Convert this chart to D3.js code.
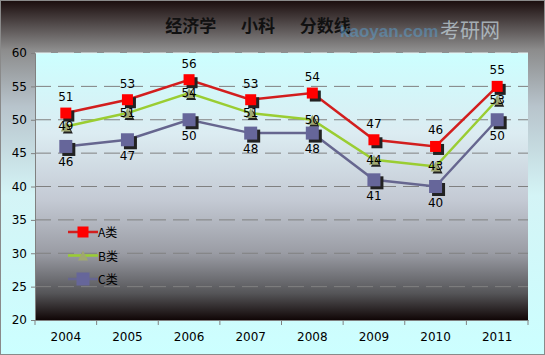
<!DOCTYPE html>
<html>
<head>
<meta charset="utf-8">
<script src="https://cdn.jsdelivr.net/npm/d3@7"></script>
<style>
  body { margin: 0; background: #fff; }
  svg { display: block; }
</style>
</head>
<body>
<div id="chart"></div>
<script>
const years = ["2004", "2005", "2006", "2007", "2008", "2009", "2010", "2011"];
const seriesA = [51, 53, 56, 53, 54, 47, 46, 55];
const seriesB = [49, 51, 54, 51, 50, 44, 43, 53];
const seriesC = [46, 47, 50, 48, 48, 41, 40, 50];
const seriesNames = ["A类", "B类", "C类"];
const yTicks = [20, 25, 30, 35, 40, 45, 50, 55, 60];

const width = 545, height = 355;
const margin = { top: 53, right: 17, bottom: 35, left: 35 };

const svg = d3.select("#chart").append("svg")
  .attr("width", width).attr("height", height);

const defs = svg.append("defs");
const outerGrad = defs.append("linearGradient").attr("id", "outerGrad")
  .attr("x1", 0).attr("y1", 0).attr("x2", 0).attr("y2", 1);
[[0, "#1a0c0c"], [0.14, "#8c8c8c"], [0.3, "#b8c4cc"], [0.55, "#d4f4f6"], [1, "#ccffff"]]
  .forEach(([o, c]) => outerGrad.append("stop").attr("offset", o).attr("stop-color", c));

const plotGrad = defs.append("linearGradient").attr("id", "plotGrad")
  .attr("x1", 0).attr("y1", 0).attr("x2", 0).attr("y2", 1);
[[0, "#ccffff"], [0.3, "#dcecf2"], [0.55, "#c4cad4"], [0.75, "#9a9ca4"], [0.9, "#555558"], [1, "#100606"]]
  .forEach(([o, c]) => plotGrad.append("stop").attr("offset", o).attr("stop-color", c));

svg.append("rect").attr("width", width).attr("height", height)
  .attr("fill", "url(#outerGrad)").attr("stroke", "#8a8a8a").attr("stroke-width", 2);

const chartW = width - margin.left - margin.right;
const chartH = height - margin.top - margin.bottom;

const x = d3.scaleBand().domain(years).range([0, chartW]);
const y = d3.scaleLinear().domain([20, 60]).range([chartH, 0]);

const g = svg.append("g").attr("transform", `translate(${margin.left},${margin.top})`);

g.append("rect").attr("width", chartW).attr("height", chartH).attr("fill", "url(#plotGrad)");

// gridlines
g.append("g").selectAll("line").data(yTicks.filter(d => d > 20)).join("line")
  .attr("x1", 0).attr("x2", chartW)
  .attr("y1", d => y(d)).attr("y2", d => y(d))
  .attr("stroke", d => d === 60 ? "#e8f4f4" : "#808080")
  .attr("stroke-width", 1)
  .attr("stroke-dasharray", "16,7");

// y axis
const yAxis = g.append("g").call(d3.axisLeft(y).tickValues(yTicks).tickSize(4).tickPadding(4));
yAxis.select(".domain").attr("stroke", "#808080");
yAxis.selectAll(".tick line").attr("stroke", "#808080");
yAxis.selectAll("text").attr("font-family", "DejaVu Sans, sans-serif").attr("font-size", 12).attr("fill", "#000");

// x axis
const xAxis = g.append("g").attr("transform", `translate(0,${chartH})`)
  .call(d3.axisBottom(x).tickSize(0).tickPadding(12));
xAxis.select(".domain").attr("stroke", "#808080");
xAxis.selectAll("text").attr("font-family", "DejaVu Sans, sans-serif").attr("font-size", 12).attr("fill", "#000");
g.append("g").selectAll("line").data(years.concat(["end"])).join("line")
  .attr("x1", (d, i) => i * x.bandwidth()).attr("x2", (d, i) => i * x.bandwidth())
  .attr("y1", chartH).attr("y2", chartH + 5)
  .attr("stroke", "#808080");

// title
svg.append("text").attr("x", 258).attr("y", 32).attr("text-anchor", "middle")
  .attr("font-family", "Noto Sans CJK SC, sans-serif").attr("font-size", 17).attr("font-weight", "bold")
  .attr("fill", "#111")
  .attr("xml:space", "preserve").style("white-space", "pre")
  .text("经济学　  小科　  分数线");

// watermark top right
svg.append("text").attr("x", 340).attr("y", 37)
  .attr("font-family", "Liberation Sans, sans-serif").attr("font-size", 17).attr("font-weight", "bold")
  .attr("fill", "#5a9ac8").attr("opacity", 0.55)
  .text("kaoyan.com");
svg.append("text").attr("x", 440).attr("y", 38)
  .attr("font-family", "Noto Sans CJK SC, sans-serif").attr("font-size", 20)
  .attr("fill", "#c8d8e0").attr("opacity", 0.7)
  .text("考研网");

const series = [
  { name: seriesNames[0], values: seriesA, line: "#d21e1e", fill: "#ff0000", shape: "square", size: 11, labelDy: -12 },
  { name: seriesNames[1], values: seriesB, line: "#9acd32", fill: "#a0a870", shape: "triangle", size: 10, labelDy: 4 },
  { name: seriesNames[2], values: seriesC, line: "#66668f", fill: "#66669a", shape: "square", size: 13, labelDy: 20 }
];

const cx = i => x(years[i]) + x.bandwidth() / 2;
const lineGen = d3.line().x((d, i) => cx(i)).y(d => y(d));

function drawMarker(sel, s, px, py) {
  const h = s.size / 2;
  if (s.shape === "square") {
    sel.append("rect").attr("x", px - h + 3).attr("y", py - h + 3).attr("width", s.size).attr("height", s.size).attr("fill", "#222");
    sel.append("rect").attr("x", px - h).attr("y", py - h).attr("width", s.size).attr("height", s.size).attr("fill", s.fill);
  } else {
    const tri = (ox, oy) => `M${px + ox},${py - h + oy}L${px + h + ox},${py + h + oy}L${px - h + ox},${py + h + oy}Z`;
    sel.append("path").attr("d", tri(2, 2)).attr("fill", "#222");
    sel.append("path").attr("d", tri(0, 0)).attr("fill", s.fill);
  }
}

series.forEach(s => {
  g.append("path").datum(s.values).attr("d", lineGen)
    .attr("fill", "none").attr("stroke", s.line).attr("stroke-width", 2.5);
});
series.forEach(s => {
  const mg = g.append("g");
  s.values.forEach((v, i) => drawMarker(mg, s, cx(i), y(v)));
});
series.forEach(s => {
  g.append("g").selectAll("text").data(s.values).join("text")
    .attr("x", (d, i) => cx(i)).attr("y", d => y(d) + s.labelDy)
    .attr("text-anchor", "middle")
    .attr("font-family", "DejaVu Sans, sans-serif").attr("font-size", 12).attr("fill", "#000")
    .text(d => d);
});

// legend
const legend = svg.append("g").attr("transform", "translate(68,232)");
series.forEach((s, i) => {
  const row = legend.append("g").attr("transform", `translate(0,${i * 23.5})`);
  row.append("line").attr("x1", 0).attr("x2", 30).attr("y1", 0).attr("y2", 0)
    .attr("stroke", s.line).attr("stroke-width", 2.5);
  const h = s.size / 2;
  if (s.shape === "square") {
    row.append("rect").attr("x", 15 - h).attr("y", -h).attr("width", s.size).attr("height", s.size).attr("fill", s.fill);
  } else {
    row.append("path").attr("d", `M15,${-h}L${15 + h},${h}L${15 - h},${h}Z`).attr("fill", s.fill);
  }
  row.append("text").attr("x", 30).attr("y", 5)
    .attr("font-family", "Noto Sans CJK SC, sans-serif").attr("font-size", 12).attr("fill", "#000")
    .text(s.name);
});
</script>
</body>
</html>
